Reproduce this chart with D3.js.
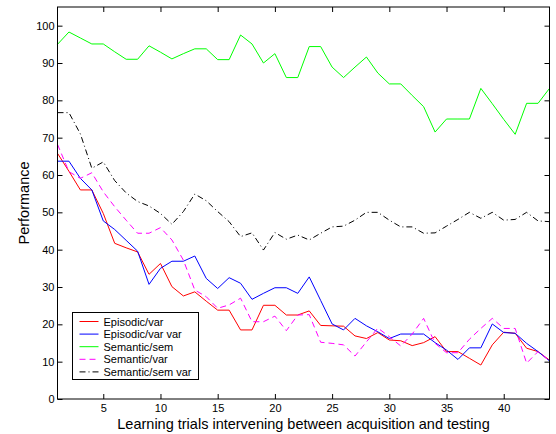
<!DOCTYPE html>
<html>
<head>
<meta charset="utf-8">
<script src="https://cdn.jsdelivr.net/npm/d3@7"></script>
<style>
  body { margin: 0; background: #fff; }
  text { font-family: "Liberation Sans", Arial, sans-serif; }
</style>
</head>
<body>
<svg id="chart" width="556" height="434"></svg>
<script>
const trials = d3.range(1, 45);

const episodicVar = [65.8, 61, 56, 56, 49.7, 41.7, 40.5, 39.4, 33.4, 36.3, 30.1, 27.6, 28.7, 26.2, 23.8, 23.8, 18.5, 18.5, 25.1, 25.1, 22.5, 22.5, 23.6, 19.7, 19.6, 19.5, 16.9, 16.2, 17.8, 15.8, 15.6, 14.3, 15.1, 16.7, 12.7, 12.7, 10.9, 9.1, 14.5, 17.9, 17.6, 13.6, 12.7, 10.4];
const episodicVarVar = [63.7, 63.7, 59.1, 56, 47.7, 45.4, 42.5, 39.6, 30.7, 35, 36.9, 36.9, 38.3, 32.3, 29.6, 32.5, 31, 26.7, 28.3, 29.8, 29.8, 28.3, 32.7, 26.4, 20.1, 18.5, 21.6, 19.6, 18, 16.2, 17.4, 17.4, 17.4, 15.1, 13.1, 10.6, 13.7, 13.7, 20.1, 17.8, 17.6, 14.9, 12.7, 10.2];
const semanticSem = [95, 98.3, 96.7, 95.1, 95.1, 93, 91, 91, 94.6, 92.9, 91.1, 92.5, 93.8, 93.8, 90.9, 90.9, 97.5, 95.1, 90, 92.5, 86.1, 86.1, 94.4, 94.4, 88.9, 86.1, 88.9, 91.6, 87.3, 84.4, 84.4, 81.3, 78.3, 71.5, 75, 75, 75, 83.2, 79.1, 74.9, 70.9, 79.2, 79.2, 83.2];
const semanticVar = [68.2, 60.9, 59.1, 60.6, 55.5, 51.5, 47.9, 44.4, 44.4, 45.9, 42.6, 37.2, 29.2, 27.4, 24.3, 25.2, 27, 20.7, 20.7, 22.2, 18.3, 22.5, 22.6, 15.2, 14.9, 14.5, 11.5, 15.3, 19, 16.7, 14.2, 17.4, 21.6, 14.9, 12.4, 12.4, 16, 18.9, 21.6, 18.9, 18.9, 9.6, 12.7, 10.2];
const semanticSemVar = [76.7, 76.7, 71, 61.8, 63.5, 58.5, 55.2, 52.9, 51.7, 49.7, 46.8, 50.2, 54.9, 53.1, 50.2, 47.5, 43.5, 44.5, 39.9, 44.6, 42.8, 43.9, 42.6, 44.4, 46.1, 46.3, 47.9, 50, 50, 47.9, 46.1, 46.1, 44.4, 44.5, 46.3, 48.1, 50, 48.4, 50, 47.9, 48.1, 50, 47.7, 47.5];

const xTicks = [5, 10, 15, 20, 25, 30, 35, 40];
const yTicks = [0, 10, 20, 30, 40, 50, 60, 70, 80, 90, 100];

const series = [
  { name: "Episodic/var", values: episodicVar, color: "#ff0000", dash: null },
  { name: "Episodic/var var", values: episodicVarVar, color: "#0000ff", dash: null },
  { name: "Semantic/sem", values: semanticSem, color: "#00ff00", dash: null },
  { name: "Semantic/var", values: semanticVar, color: "#ff00ff", dash: "6,4" },
  { name: "Semantic/sem var", values: semanticSemVar, color: "#000000", dash: "6,3,1,3" }
];

const svg = d3.select("#chart");
const plotL = 57.5, plotR = 549.5, plotT = 7, plotB = 399;

const x = d3.scaleLinear().domain([1, 44]).range([plotL, plotR]);
const y = d3.scaleLinear().domain([0, 105]).range([plotB, plotT]);

const line = d3.line()
  .x((d, i) => x(trials[i]))
  .y(d => y(d));

// data lines
svg.append("g")
  .selectAll("path")
  .data(series)
  .join("path")
  .attr("d", d => line(d.values))
  .attr("fill", "none")
  .attr("stroke", d => d.color)
  .attr("stroke-width", 1)
  .attr("stroke-dasharray", d => d.dash);

// axes with inward ticks on all sides
const tl = 5;
svg.append("g")
  .attr("transform", `translate(0,${plotB})`)
  .call(d3.axisBottom(x).tickValues(xTicks).tickSize(-tl).tickPadding(5))
  .call(g => g.select(".domain").remove());
svg.append("g")
  .attr("transform", `translate(0,${plotT})`)
  .call(d3.axisTop(x).tickValues(xTicks).tickSize(-tl).tickFormat(""))
  .call(g => g.select(".domain").remove());
svg.append("g")
  .attr("transform", `translate(${plotL},0)`)
  .call(d3.axisLeft(y).tickValues(yTicks).tickSize(-tl).tickPadding(3))
  .call(g => g.select(".domain").remove());
svg.append("g")
  .attr("transform", `translate(${plotR},0)`)
  .call(d3.axisRight(y).tickValues(yTicks).tickSize(-tl).tickFormat(""))
  .call(g => g.select(".domain").remove());

svg.selectAll(".tick text")
  .attr("font-size", 11)
  .attr("font-family", "Liberation Sans, Arial, sans-serif")
  .attr("fill", "#000");
svg.selectAll(".tick line").attr("stroke", "#000");

svg.append("rect")
  .attr("x", plotL).attr("y", plotT)
  .attr("width", plotR - plotL).attr("height", plotB - plotT)
  .attr("fill", "none").attr("stroke", "#000").attr("stroke-width", 1);

// axis labels
svg.append("text")
  .attr("x", (plotL + plotR) / 2).attr("y", 428.5)
  .attr("text-anchor", "middle").attr("font-size", 14.5)
  .text("Learning trials intervening between acquisition and testing");
svg.append("text")
  .attr("transform", `translate(28.5,${(plotT + plotB) / 2}) rotate(-90)`)
  .attr("text-anchor", "middle").attr("font-size", 14.5)
  .text("Performance");

// legend
const lg = svg.append("g").attr("transform", "translate(72.5,312.5)");
lg.append("rect")
  .attr("width", 126).attr("height", 67)
  .attr("fill", "#fff").attr("stroke", "#000").attr("stroke-width", 1);
const rows = lg.selectAll("g.row")
  .data(series)
  .join("g")
  .attr("class", "row")
  .attr("transform", (d, i) => `translate(0,${9 + i * 12.6})`);
rows.append("line")
  .attr("x1", 7).attr("x2", 26)
  .attr("stroke", d => d.color)
  .attr("stroke-dasharray", d => d.dash);
rows.append("text")
  .attr("x", 31).attr("y", 4)
  .attr("font-size", 11)
  .text(d => d.name);
</script>
</body>
</html>
